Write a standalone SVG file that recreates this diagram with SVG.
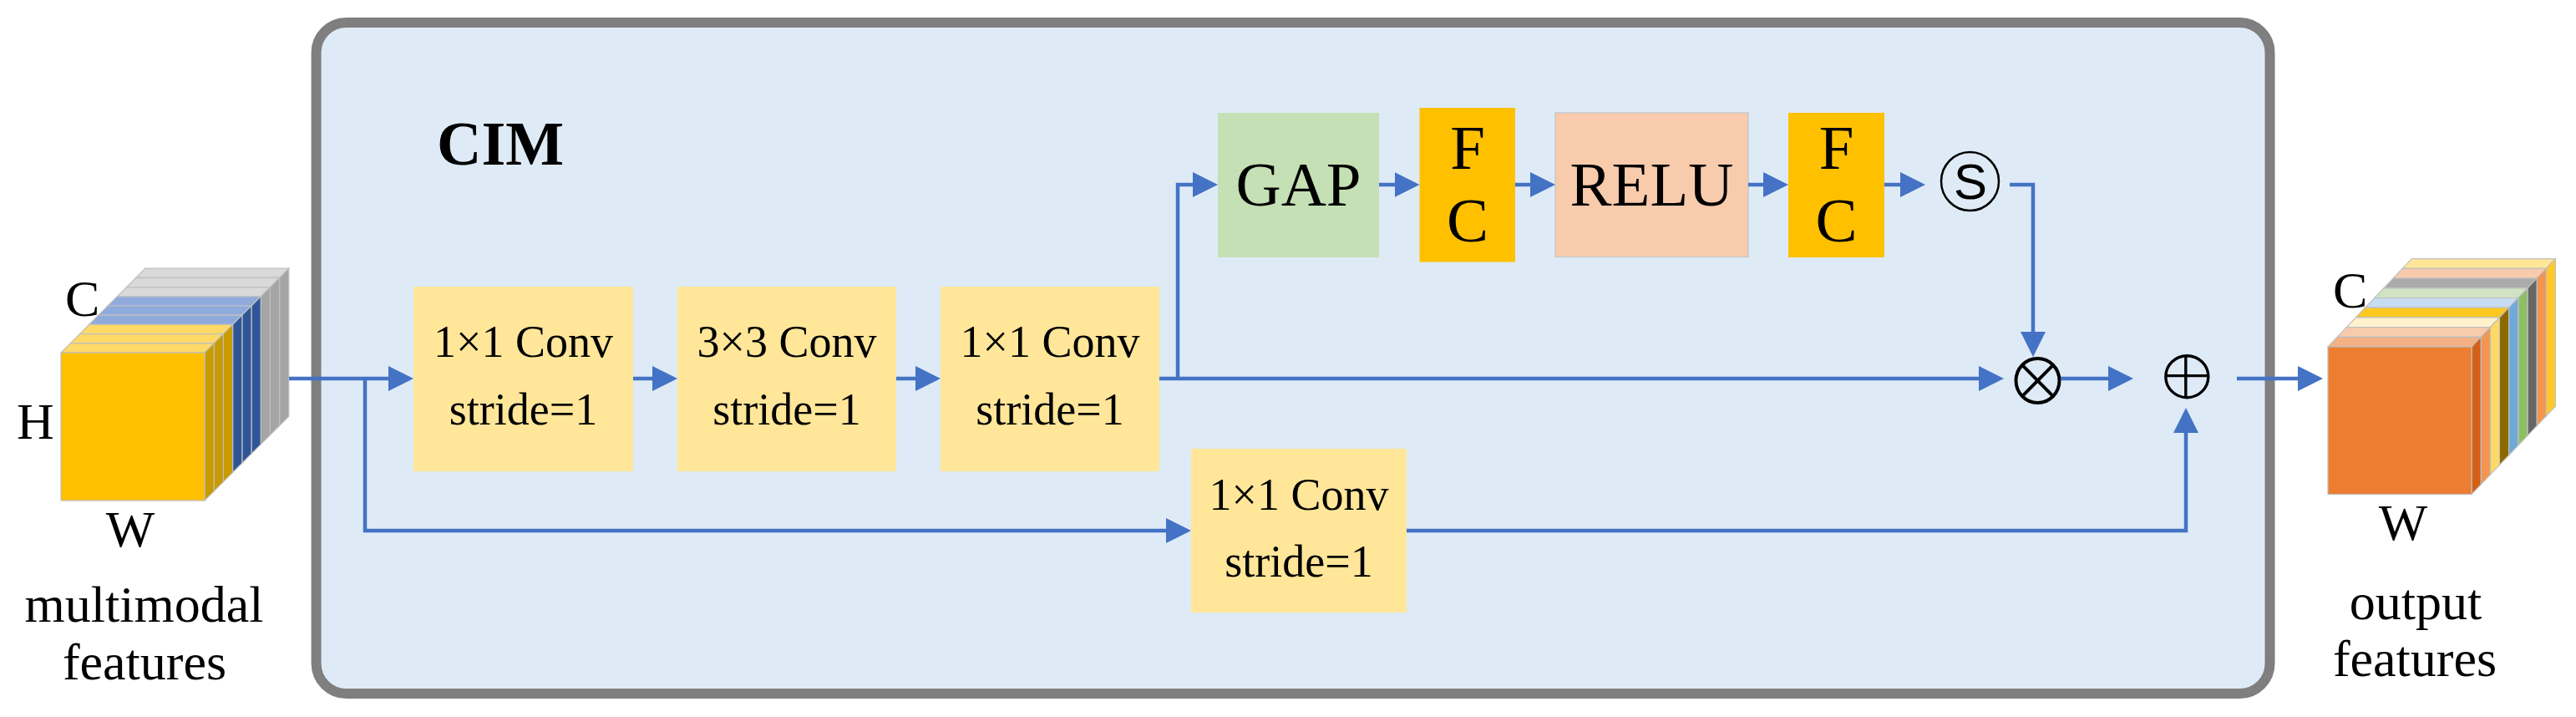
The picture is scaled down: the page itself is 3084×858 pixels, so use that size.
<svg xmlns="http://www.w3.org/2000/svg" xmlns:xlink="http://www.w3.org/1999/xlink" width="3084" height="858" viewBox="0 0 3084 858">
<style>
.t{font-family:"Liberation Serif","Times New Roman",serif;fill:#000}
.conv{fill:#FFE699}
.ct{font-size:54px;text-anchor:middle}
.big{font-size:75px;text-anchor:middle}
.lbl{font-size:62px}
.mid{text-anchor:middle}
.cn{fill:none;stroke:#4472C4;stroke-width:4.5}
.slc{stroke:#BFBFBF;stroke-width:1.2}
.op{fill:none;stroke:#000;stroke-width:4}
</style>
<defs>
<marker id="ah" markerUnits="userSpaceOnUse" markerWidth="30" markerHeight="30" refX="25" refY="15" orient="auto">
<path d="M0,0 L30,15 L0,30 z" fill="#4472C4"/>
</marker>
<polygon id="lt" points="0,0 172,0 183.2,-11.2 11.2,-11.2"/>
<polygon id="ls" points="172,0 183.2,-11.2 183.2,165.8 172,177"/>
<polygon id="rt" points="0,0 172,0 183.15,-11.7 11.15,-11.7"/>
<polygon id="rs" points="172,0 183.15,-11.7 183.15,164.8 172,176.5"/>
</defs>
<rect width="3084" height="858" fill="#FFFFFF"/>

<g id="cim-module">
<rect x="378.6" y="27" width="2338.9" height="803" rx="36" fill="#DEEBF7" stroke="#7F7F7F" stroke-width="12"/>
<text class="t" x="523" y="197" font-size="74" font-weight="bold">CIM</text>
</g>

<g id="input-features">
<g class="slc">
<use xlink:href="#lt" x="162.6" y="332.4" fill="#D9D9D9"/><use xlink:href="#ls" x="162.6" y="332.4" fill="#A5A5A5"/>
<use xlink:href="#lt" x="151.4" y="343.6" fill="#D9D9D9"/><use xlink:href="#ls" x="151.4" y="343.6" fill="#A5A5A5"/>
<use xlink:href="#lt" x="140.2" y="354.8" fill="#D9D9D9"/><use xlink:href="#ls" x="140.2" y="354.8" fill="#A5A5A5"/>
<use xlink:href="#lt" x="129" y="366" fill="#8FAADC"/><use xlink:href="#ls" x="129" y="366" fill="#2F5597"/>
<use xlink:href="#lt" x="117.8" y="377.2" fill="#8FAADC"/><use xlink:href="#ls" x="117.8" y="377.2" fill="#2F5597"/>
<use xlink:href="#lt" x="106.6" y="388.4" fill="#8FAADC"/><use xlink:href="#ls" x="106.6" y="388.4" fill="#2F5597"/>
<use xlink:href="#lt" x="95.4" y="399.6" fill="#FFD966"/><use xlink:href="#ls" x="95.4" y="399.6" fill="#C99A00"/>
<use xlink:href="#lt" x="84.2" y="410.8" fill="#FFD966"/><use xlink:href="#ls" x="84.2" y="410.8" fill="#C99A00"/>
<use xlink:href="#lt" x="73" y="422" fill="#FFD966"/><use xlink:href="#ls" x="73" y="422" fill="#C99A00"/>
<rect x="73" y="422" width="172" height="177" fill="#FFC000"/>
</g>
<text class="t lbl" x="78" y="378">C</text>
<text class="t lbl" x="20" y="525">H</text>
<text class="t lbl mid" x="156" y="654">W</text>
<text class="t lbl mid" x="172.5" y="744">multimodal</text>
<text class="t lbl mid" x="173" y="813">features</text>
</g>

<g id="output-features">
<g class="slc">
<use xlink:href="#rt" x="2876.2" y="321.4" fill="#FFE699"/><use xlink:href="#rs" x="2876.2" y="321.4" fill="#FFC929"/>
<use xlink:href="#rt" x="2865.05" y="333.1" fill="#F8CBAD"/><use xlink:href="#rs" x="2865.05" y="333.1" fill="#F19550"/>
<use xlink:href="#rt" x="2853.9" y="344.8" fill="#ABABAB"/><use xlink:href="#rs" x="2853.9" y="344.8" fill="#666666"/>
<use xlink:href="#rt" x="2842.75" y="356.5" fill="#D0E4C4"/><use xlink:href="#rs" x="2842.75" y="356.5" fill="#8CBF64"/>
<use xlink:href="#rt" x="2831.6" y="368.2" fill="#C6DCF0"/><use xlink:href="#rs" x="2831.6" y="368.2" fill="#71A8DA"/>
<use xlink:href="#rt" x="2820.45" y="379.9" fill="#FFC820"/><use xlink:href="#rs" x="2820.45" y="379.9" fill="#8C6A00"/>
<use xlink:href="#rt" x="2809.3" y="391.6" fill="#FFF2CC"/><use xlink:href="#rs" x="2809.3" y="391.6" fill="#FFD966"/>
<use xlink:href="#rt" x="2798.15" y="403.3" fill="#F8CBAD"/><use xlink:href="#rs" x="2798.15" y="403.3" fill="#F19550"/>
<use xlink:href="#rt" x="2787" y="415" fill="#F4B183"/><use xlink:href="#rs" x="2787" y="415" fill="#D46016"/>
<rect x="2787" y="415" width="172" height="176.5" fill="#ED7D31"/>
</g>
<text class="t lbl" x="2793" y="368">C</text>
<text class="t lbl mid" x="2877" y="646">W</text>
<text class="t lbl mid" x="2892" y="741">output</text>
<text class="t lbl mid" x="2891" y="809">features</text>
</g>

<g id="conv1">
<rect class="conv" x="495" y="343" width="263" height="221"/>
<text class="t ct" x="626.5" y="427">1×1 Conv</text>
<text class="t ct" x="626.5" y="508">stride=1</text>
</g>
<g id="conv2">
<rect class="conv" x="811" y="343" width="262" height="221"/>
<text class="t ct" x="942" y="427">3×3 Conv</text>
<text class="t ct" x="942" y="508">stride=1</text>
</g>
<g id="conv3">
<rect class="conv" x="1126" y="343" width="262" height="221"/>
<text class="t ct" x="1257" y="427">1×1 Conv</text>
<text class="t ct" x="1257" y="508">stride=1</text>
</g>
<g id="conv4">
<rect class="conv" x="1426" y="537" width="258" height="196"/>
<text class="t ct" x="1555" y="610">1×1 Conv</text>
<text class="t ct" x="1555" y="690">stride=1</text>
</g>

<g id="gap">
<rect x="1458" y="135" width="193" height="173" fill="#C5E0B4"/>
<text class="t big" x="1554.5" y="245.5">GAP</text>
</g>
<g id="fc1">
<rect x="1699.5" y="129" width="114.5" height="184.5" fill="#FFC000"/>
<text class="t big" x="1757" y="202">F</text>
<text class="t big" x="1757" y="289">C</text>
</g>
<g id="relu">
<rect x="1862" y="135" width="231" height="172.5" fill="#F8CBAD" stroke="#C9C9C9" stroke-width="1.5"/>
<text class="t big" x="1977.5" y="245.5">RELU</text>
</g>
<g id="fc2">
<rect x="2141" y="135" width="115" height="173" fill="#FFC000"/>
<text class="t big" x="2198.5" y="202">F</text>
<text class="t big" x="2198.5" y="289">C</text>
</g>
<g id="sigmoid">
<ellipse cx="2358.5" cy="217" rx="34.5" ry="35" fill="none" stroke="#000" stroke-width="2.5"/>
<text x="2359" y="238" font-family="Liberation Sans, Arial, sans-serif" font-size="60" text-anchor="middle">S</text>
</g>
<g id="multiply">
<ellipse class="op" cx="2439.5" cy="455.5" rx="26" ry="26.5"/>
<path class="op" d="M2421.1,436.8 L2457.9,474.2 M2457.9,436.8 L2421.1,474.2"/>
</g>
<g id="add">
<ellipse cx="2618.3" cy="450.7" rx="25.5" ry="25" fill="none" stroke="#000" stroke-width="3.4"/>
<path d="M2592.8,449.6 H2643.8 M2616.8,425.7 V475.7" fill="none" stroke="#000" stroke-width="3.4"/>
</g>

<g id="connectors">
<path class="cn" d="M346,453 H490" marker-end="url(#ah)"/>
<path class="cn" d="M437,453 V635 H1421" marker-end="url(#ah)"/>
<path class="cn" d="M758,453 H806" marker-end="url(#ah)"/>
<path class="cn" d="M1073,453 H1121" marker-end="url(#ah)"/>
<path class="cn" d="M1388,453 H2394" marker-end="url(#ah)"/>
<path class="cn" d="M1410,453 V221 H1453" marker-end="url(#ah)"/>
<path class="cn" d="M1651,221 H1694.5" marker-end="url(#ah)"/>
<path class="cn" d="M1814,221 H1857" marker-end="url(#ah)"/>
<path class="cn" d="M2093,221 H2136" marker-end="url(#ah)"/>
<path class="cn" d="M2256,221 H2300" marker-end="url(#ah)"/>
<path class="cn" d="M2406,221 H2434 V422" marker-end="url(#ah)"/>
<path class="cn" d="M2467,453 H2549" marker-end="url(#ah)"/>
<path class="cn" d="M1684,635 H2617 V493" marker-end="url(#ah)"/>
<path class="cn" d="M2678,453 H2776" marker-end="url(#ah)"/>
</g>
</svg>
